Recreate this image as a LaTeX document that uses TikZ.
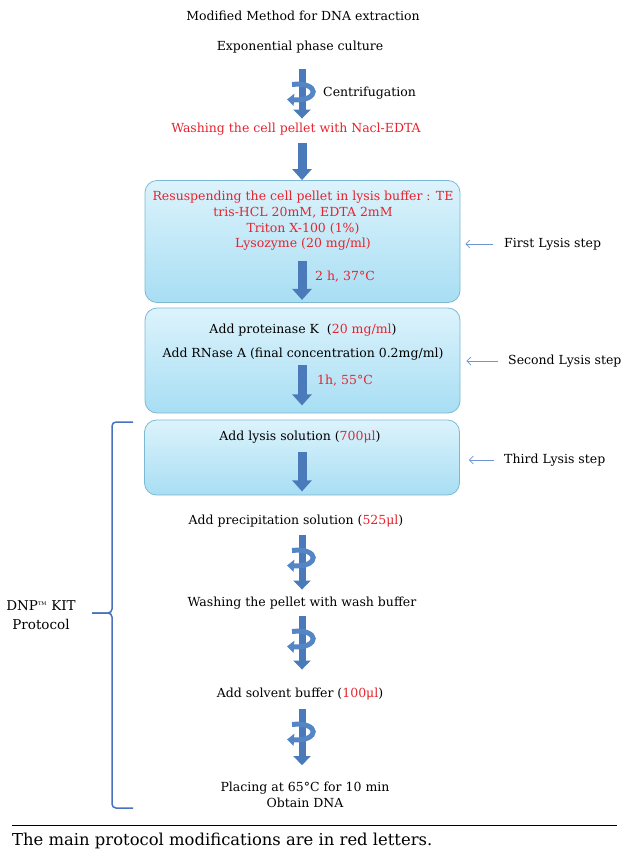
\documentclass[tikz,border=0pt]{standalone}
\usepackage{fontspec}
\setmainfont{DejaVu Serif}
\usetikzlibrary{calc}
\usetikzlibrary{arrows.meta}
\definecolor{modred}{RGB}{230,35,45}
\definecolor{arrowblue}{RGB}{74,122,186}
\definecolor{bandblue}{RGB}{84,134,198}
\definecolor{bracketblue}{RGB}{72,114,190}
\definecolor{sideblue}{RGB}{110,150,215}
\definecolor{boxtop}{RGB}{220,243,252}
\definecolor{boxbottom}{RGB}{168,222,243}
\definecolor{boxborder}{RGB}{125,185,210}
\newcommand{\fs}{\fontsize{12.5}{15.7}\selectfont}
\newcommand{\twist}[4] % from node, to node, gap at top in pt, gap at bottom in pt
{
	% shaft
	\draw[shaft, shorten <=#3pt, shorten >=#4pt] (axis |- #1.south) -- (axis |- #2.north);
	% twisting band
	\coordinate (tw) at ($(axis |- #1.south)+(0,#3)$);
	\draw[band] ($(tw)+(-10,15)$) .. controls ($(tw)+(18,12)$) and ($(tw)+(18,32)$) .. ($(tw)+(-15,30)$);
}

\begin{document}
\begin{tikzpicture}[x=1pt, y=-1pt,
	txt/.style={font=\fs, inner sep=1pt, text height=9.5pt, text depth=3pt},
	multi/.style={font=\fs, inner sep=1pt, align=center},
	lysisbox/.style={draw=boxborder, line width=0.8pt, rounded corners=12pt, top color=boxtop, bottom color=boxbottom, minimum width=315pt, inner sep=0pt},
	blockarr/.style={draw=arrowblue, line width=9pt, -{Triangle[width=19pt,length=11pt]}},
	shaft/.style={draw=arrowblue, line width=7pt, -{Triangle[width=17pt,length=9pt]}},
	band/.style={draw=bandblue, line width=5pt, -{Triangle[width=12pt,length=7pt]}},
	sidearr/.style={draw=sideblue, line width=0.7pt, -{Straight Barb[length=4pt,width=8pt]}},
	bracket/.style={draw=bracketblue, line width=1.5pt, rounded corners=4pt}]
	% page 623 x 852
	\useasboundingbox (0,0) rectangle (623,852);
	\coordinate (axis) at (302,0);
	
	% lysis boxes
	\node[lysisbox, minimum height=122pt] (box1) at (302.5,241.5) {};
	\node[lysisbox, minimum height=105pt] (box2) at (302.5,360.5) {};
	\node[lysisbox, minimum height=75pt] (box3) at (302,457.5) {};
	
	\node[txt] (title) at (303,17) {Modified Method for DNA extraction};
	\node[txt] (expo) at (300,47) {Exponential phase culture};
	\node[txt, anchor=west] (centri) at (322,93) {Centrifugation};
	\node[txt, text=modred] (wash) at (296,129) {Washing the cell pellet with Nacl-EDTA};
	
	\node[multi, text=modred] (lys1) at (303,221) {Resuspending the cell pellet in lysis buffer : TE\\tris-HCL 20mM, EDTA 2mM\\Triton X-100 (1\%)\\Lysozyme (20 mg/ml)};
	\node[txt, text=modred, anchor=west] (t1) at (314,277) {2 h, 37°C};
	
	\node[txt] (prot) at (303,330) {Add proteinase K\ \ (\textcolor{modred}{20 mg/ml})};
	\node[txt] (rnase) at (303,354) {Add RNase A (final concentration 0.2mg/ml)};
	\node[txt, text=modred, anchor=west] (t2) at (316,381) {1h, 55°C};
	
	\node[txt] (lysis) at (300,437) {Add lysis solution (\textcolor{modred}{700μl})};
	\node[txt] (precip) at (296,521) {Add precipitation solution (\textcolor{modred}{525μl})};
	\node[txt] (washp) at (302,603) {Washing the pellet with wash buffer};
	\node[txt] (solvent) at (300,694) {Add solvent buffer (\textcolor{modred}{100μl})};
	\node[multi] (placing) at (305,795) {Placing at 65°C for 10 min\\Obtain DNA};
	
	% side labels
	\node[txt, anchor=west] (first) at (503,244) {First Lysis step};
	\node[txt, anchor=west] (second) at (507,361) {Second Lysis step};
	\node[txt, anchor=west] (third) at (503,460) {Third Lysis step};
	\draw[sidearr, shorten <=10pt, shorten >=5pt] (first.west) -- (box1.east |- first.west);
	\draw[sidearr, shorten <=9pt, shorten >=6pt] (second.west) -- (box2.east |- second.west);
	\draw[sidearr, shorten <=9pt, shorten >=9pt] (third.west) -- (box3.east |- third.west);
	
	% straight arrows
	\draw[blockarr, shorten <=7pt] (axis |- wash.south) -- (axis |- box1.north);
	\draw[blockarr, shorten <=9pt, shorten >=3pt] (axis |- lys1.south) -- (axis |- box1.south);
	\draw[blockarr, shorten <=4pt, shorten >=8pt] (axis |- rnase.south) -- (axis |- box2.south);
	\draw[blockarr, shorten <=8pt, shorten >=4pt] (axis |- lysis.south) -- (axis |- box3.south);
	
	% centrifugation arrows
	\twist{expo}{wash}{15}{3};
	\twist{precip}{washp}{7}{6};
	\twist{washp}{solvent}{6}{17};
	\twist{solvent}{placing}{8}{16};
	
	% kit bracket
	\draw[bracket] (133,422) -| (112,613) -- (92,613);
	\draw[bracket] (92,613) -| (112,808) -- (133,808);
	\node[multi, font=\fontsize{13.5}{19}\selectfont] (kit) at (41,615) {DNP\textsuperscript{\tiny TM} KIT\\Protocol};
	
	% caption
	\draw[line width=0.8pt] (12,825) -- (617,825);
	\node[font=\fontsize{16.4}{19}\selectfont, anchor=west, inner sep=1pt] (caption) at (11,841) {The main protocol modifications are in red letters.};
\end{tikzpicture}
\end{document}
